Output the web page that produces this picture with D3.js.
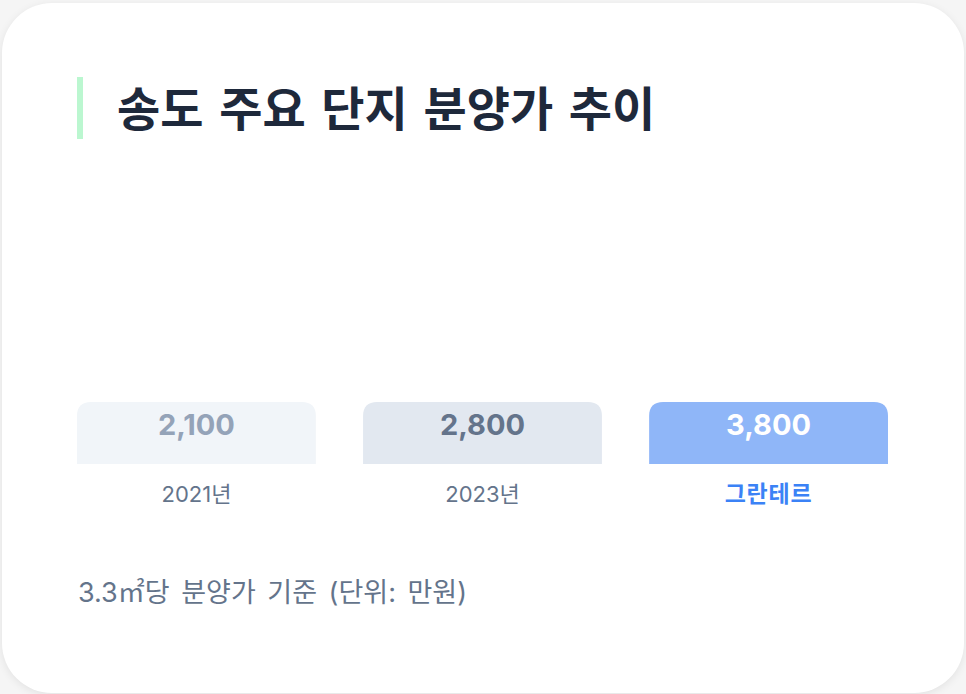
<!DOCTYPE html>
<html><head><meta charset="utf-8">
<script src="https://cdn.jsdelivr.net/npm/d3@7"></script>
<style>
html,body{margin:0;padding:0;background:#f5f5f5;width:966px;height:694px;overflow:hidden;}
#card{position:absolute;left:2px;top:3px;width:962px;height:690px;background:#fff;border-radius:50px;box-shadow:0 2px 8px rgba(0,0,0,0.08);}
svg{position:absolute;left:0;top:0;}
</style></head>
<body>
<div id="card"></div>
<svg id="chart" width="966" height="694"></svg>
<script>
const title = "송도 주요 단지 분양가 추이";
const categories = ["2021년", "2023년", "그란테르"];
const values = [2100, 2800, 3800];
const barFills = ["#f1f5f9", "#e2e8f0", "#8fb6f8"];
const valueColors = ["#94a3b8", "#64748b", "#ffffff"];
const labelColors = ["#64748b", "#64748b", "#3b82f6"];
const labelWeights = [400, 400, 700];
const labelSizes = [22, 22, 23];
const note = "3.3㎡당 분양가 기준 (단위: 만원)";

const svg = d3.select("#chart");
const font = "Inter, 'Noto Sans CJK KR', sans-serif";
const kfont = "'Noto Sans CJK KR', sans-serif";

// title accent + title
svg.append("rect").attr("x", 77).attr("y", 77).attr("width", 6).attr("height", 62).attr("fill", "#bbf7d0");
svg.append("text").attr("x", 117).attr("y", 126)
  .attr("font-family", kfont).attr("font-weight", 700)
  .attr("font-size", 47).attr("fill", "#1e293b")
  .attr("word-spacing", 5)
  .text(title);

const x = d3.scaleBand().domain(categories).range([77, 888]).paddingInner(0.165).paddingOuter(0);
const barTop = 402, barBottom = 464, r = 14;

function topRounded(x0, y0, w, h, r) {
  return `M${x0},${y0+h}V${y0+r}Q${x0},${y0} ${x0+r},${y0}H${x0+w-r}Q${x0+w},${y0} ${x0+w},${y0+r}V${y0+h}Z`;
}

const g = svg.append("g");
const bars = g.selectAll("g.bar").data(categories).join("g").attr("class", "bar");
bars.append("path")
  .attr("d", (d) => topRounded(x(d), barTop, x.bandwidth(), barBottom - barTop, r))
  .attr("fill", (d, i) => barFills[i]);
bars.append("text")
  .attr("x", d => x(d) + x.bandwidth() / 2).attr("y", 435)
  .attr("text-anchor", "middle").attr("font-family", font).attr("font-weight", 700)
  .attr("font-size", 29).attr("fill", (d, i) => valueColors[i])
  .text((d, i) => d3.format(",")(values[i]));
bars.append("text")
  .attr("x", d => x(d) + x.bandwidth() / 2).attr("y", 502)
  .attr("text-anchor", "middle").attr("font-family", font).attr("font-weight", (d, i) => labelWeights[i])
  .attr("font-size", (d, i) => labelSizes[i]).attr("fill", (d, i) => labelColors[i])
  .attr("letter-spacing", (d, i) => i === 2 ? 0.8 : 0)
  .text(d => d);

svg.append("text").attr("x", 78).attr("y", 602)
  .attr("font-family", font).attr("font-size", 27).attr("fill", "#64748b")
  .attr("word-spacing", 4)
  .text(note);
</script>
</body></html>
